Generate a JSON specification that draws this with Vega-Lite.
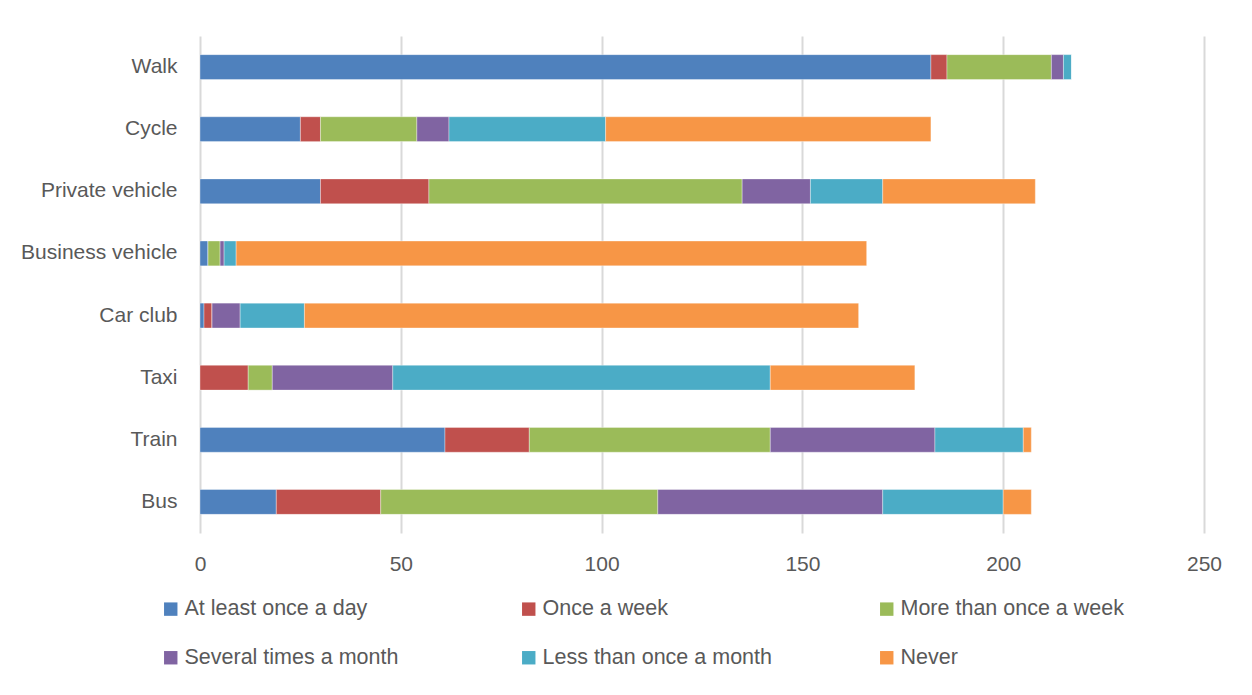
{
  "$schema": "https://vega.github.io/schema/vega-lite/v6.json",
  "width": 1004,
  "height": 497,
  "autosize": "none",
  "padding": {"left": 200, "top": 36, "right": 48, "bottom": 162},
  "background": "white",
  "config": {
    "view": {"stroke": null},
    "font": "Liberation Sans"
  },
  "data": {
    "values": [
      {"mode": "Walk", "freq": "At least once a day", "k": 1, "n": 182},
      {"mode": "Walk", "freq": "Once a week", "k": 2, "n": 4},
      {"mode": "Walk", "freq": "More than once a week", "k": 3, "n": 26},
      {"mode": "Walk", "freq": "Several times a month", "k": 4, "n": 3},
      {"mode": "Walk", "freq": "Less than once a month", "k": 5, "n": 2},
      {"mode": "Walk", "freq": "Never", "k": 6, "n": 0},
      {"mode": "Cycle", "freq": "At least once a day", "k": 1, "n": 25},
      {"mode": "Cycle", "freq": "Once a week", "k": 2, "n": 5},
      {"mode": "Cycle", "freq": "More than once a week", "k": 3, "n": 24},
      {"mode": "Cycle", "freq": "Several times a month", "k": 4, "n": 8},
      {"mode": "Cycle", "freq": "Less than once a month", "k": 5, "n": 39},
      {"mode": "Cycle", "freq": "Never", "k": 6, "n": 81},
      {"mode": "Private vehicle", "freq": "At least once a day", "k": 1, "n": 30},
      {"mode": "Private vehicle", "freq": "Once a week", "k": 2, "n": 27},
      {"mode": "Private vehicle", "freq": "More than once a week", "k": 3, "n": 78},
      {"mode": "Private vehicle", "freq": "Several times a month", "k": 4, "n": 17},
      {"mode": "Private vehicle", "freq": "Less than once a month", "k": 5, "n": 18},
      {"mode": "Private vehicle", "freq": "Never", "k": 6, "n": 38},
      {"mode": "Business vehicle", "freq": "At least once a day", "k": 1, "n": 2},
      {"mode": "Business vehicle", "freq": "Once a week", "k": 2, "n": 0},
      {"mode": "Business vehicle", "freq": "More than once a week", "k": 3, "n": 3},
      {"mode": "Business vehicle", "freq": "Several times a month", "k": 4, "n": 1},
      {"mode": "Business vehicle", "freq": "Less than once a month", "k": 5, "n": 3},
      {"mode": "Business vehicle", "freq": "Never", "k": 6, "n": 157},
      {"mode": "Car club", "freq": "At least once a day", "k": 1, "n": 1},
      {"mode": "Car club", "freq": "Once a week", "k": 2, "n": 2},
      {"mode": "Car club", "freq": "More than once a week", "k": 3, "n": 0},
      {"mode": "Car club", "freq": "Several times a month", "k": 4, "n": 7},
      {"mode": "Car club", "freq": "Less than once a month", "k": 5, "n": 16},
      {"mode": "Car club", "freq": "Never", "k": 6, "n": 138},
      {"mode": "Taxi", "freq": "At least once a day", "k": 1, "n": 0},
      {"mode": "Taxi", "freq": "Once a week", "k": 2, "n": 12},
      {"mode": "Taxi", "freq": "More than once a week", "k": 3, "n": 6},
      {"mode": "Taxi", "freq": "Several times a month", "k": 4, "n": 30},
      {"mode": "Taxi", "freq": "Less than once a month", "k": 5, "n": 94},
      {"mode": "Taxi", "freq": "Never", "k": 6, "n": 36},
      {"mode": "Train", "freq": "At least once a day", "k": 1, "n": 61},
      {"mode": "Train", "freq": "Once a week", "k": 2, "n": 21},
      {"mode": "Train", "freq": "More than once a week", "k": 3, "n": 60},
      {"mode": "Train", "freq": "Several times a month", "k": 4, "n": 41},
      {"mode": "Train", "freq": "Less than once a month", "k": 5, "n": 22},
      {"mode": "Train", "freq": "Never", "k": 6, "n": 2},
      {"mode": "Bus", "freq": "At least once a day", "k": 1, "n": 19},
      {"mode": "Bus", "freq": "Once a week", "k": 2, "n": 26},
      {"mode": "Bus", "freq": "More than once a week", "k": 3, "n": 69},
      {"mode": "Bus", "freq": "Several times a month", "k": 4, "n": 56},
      {"mode": "Bus", "freq": "Less than once a month", "k": 5, "n": 30},
      {"mode": "Bus", "freq": "Never", "k": 6, "n": 7}
    ]
  },
  "mark": {"type": "bar", "stroke": "white", "strokeWidth": 0.5, "strokeOpacity": 0.7},
  "encoding": {
    "y": {
      "field": "mode",
      "type": "nominal",
      "sort": ["Walk", "Cycle", "Private vehicle", "Business vehicle", "Car club", "Taxi", "Train", "Bus"],
      "scale": {"paddingInner": 0.6, "paddingOuter": 0.3},
      "axis": {
        "title": null,
        "ticks": false,
        "domain": false,
        "grid": false,
        "labelFontSize": 21,
        "labelColor": "#595959",
        "labelPadding": 23
      }
    },
    "x": {
      "field": "n",
      "type": "quantitative",
      "stack": "zero",
      "scale": {"domain": [0, 250], "nice": false},
      "axis": {
        "title": null,
        "values": [0, 50, 100, 150, 200, 250],
        "ticks": false,
        "domain": false,
        "grid": true,
        "gridColor": "#d9d9d9",
        "gridWidth": 2,
        "labelFlush": false,
        "labelFontSize": 21,
        "labelColor": "#595959",
        "labelPadding": 20
      }
    },
    "color": {
      "field": "freq",
      "type": "nominal",
      "scale": {
        "domain": ["At least once a day", "Once a week", "More than once a week", "Several times a month", "Less than once a month", "Never"],
        "range": ["#4F81BD", "#C0504D", "#9BBB59", "#8064A2", "#4BACC6", "#F79646"]
      },
      "legend": {
        "title": null,
        "orient": "none",
        "direction": "horizontal",
        "legendX": -40,
        "legendY": 562,
        "columns": 3,
        "gridAlign": "all",
        "columnPadding": 104,
        "rowPadding": 26,
        "padding": 0,
        "symbolType": "square",
        "symbolSize": 180,
        "symbolStrokeWidth": 0,
        "labelFontSize": 21.5,
        "labelColor": "#595959",
        "labelOffset": 3,
        "labelLimit": 400
      }
    },
    "order": {"field": "k", "type": "quantitative"}
  }
}
